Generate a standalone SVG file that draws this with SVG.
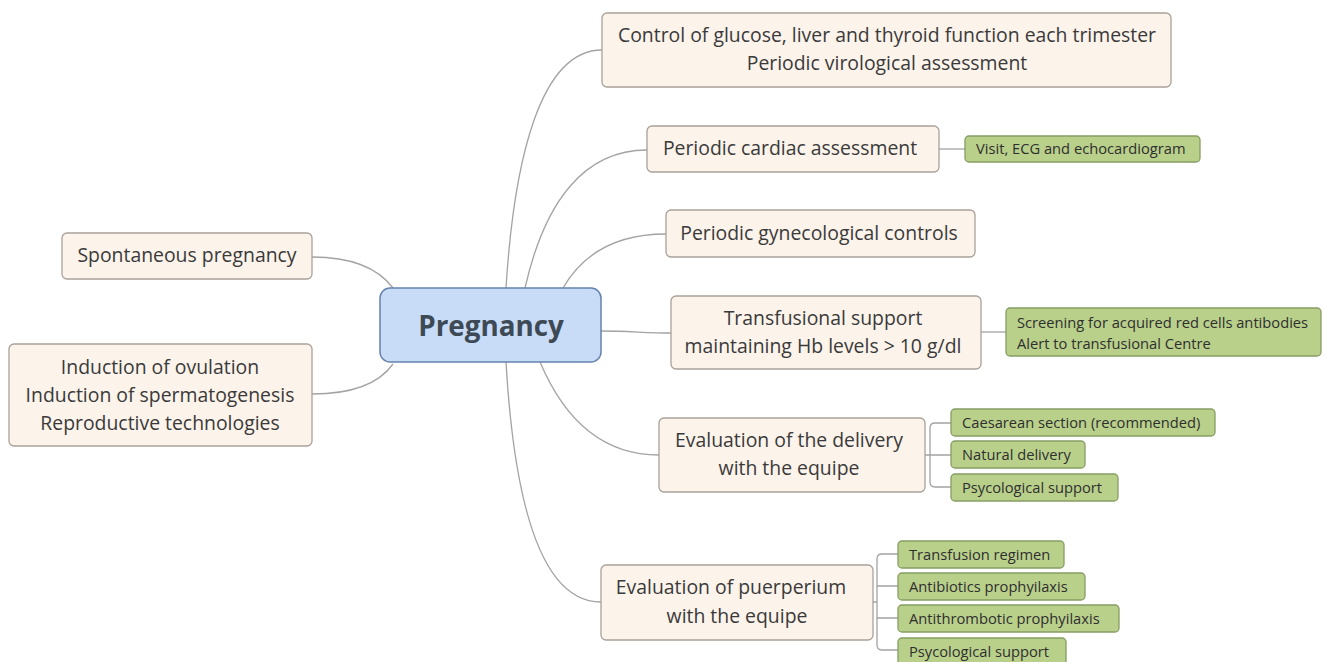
<svg xmlns="http://www.w3.org/2000/svg" width="1323" height="662" viewBox="0 0 1323 662">
<style>
.bg{fill:#ffffff}
.n rect{fill:#fcf3ea;stroke:#a9a19a;stroke-width:1.3}
.n text{font-family:"Open Sans","Noto Sans","DejaVu Sans",sans-serif;font-size:19.4px;fill:#3a3a3a;text-anchor:middle}
.g rect{fill:#b9d08b;stroke:#869d64;stroke-width:1.3}
.g text{font-family:"Open Sans","Noto Sans","DejaVu Sans",sans-serif;font-size:14.7px;fill:#2f2f2f}
.c rect{fill:#c8dcf7;stroke:#6683ad;stroke-width:1.5}
.c text{font-family:"Open Sans","Noto Sans","DejaVu Sans",sans-serif;font-size:27.8px;font-weight:bold;fill:#3d4a55;text-anchor:middle}
#connectors path{fill:none;stroke:#a3a3a3;stroke-width:1.3}
</style>
<rect class="bg" x="0" y="0" width="1323" height="662"/>
<g id="connectors">
<path d="M506,288 C514,160 540,50 602,50"/>
<path d="M525,288 C545,200 585,150 647,150"/>
<path d="M563,288 C585,250 620,234 666,234"/>
<path d="M601,331 C630,331 645,333 671,333"/>
<path d="M540,362 C568,428 610,455 659,455"/>
<path d="M506,362 C514,500 540,602 601,602"/>
<path d="M393,288 C378,268 350,257 312,257"/>
<path d="M393,364 C378,385 350,394 312,394"/>
<path d="M939,149 L965,149"/>
<path d="M981,332 L1006,332"/>
<path d="M925,455 L930,455 M951,423 L935,423 Q930,423 930,428 L930,482 Q930,487 935,487 L951,487 M930,455 L951,455"/>
<path d="M873,602 L877,602 M898,554 L882,554 Q877,554 877,559 L877,645 Q877,650 882,650 L898,650 M877,586 L898,586 M877,618 L898,618"/>
</g>
<g id="center" class="c">
<rect x="380" y="288" width="221" height="74" rx="10"/>
<text x="491" y="336">Pregnancy</text>
</g>
<g id="spontaneous" class="n">
<rect x="62" y="233" width="250" height="46" rx="5"/>
<text x="187" y="262">Spontaneous pregnancy</text>
</g>
<g id="induction" class="n">
<rect x="9" y="344" width="303" height="102" rx="5"/>
<text x="160" y="374">Induction of ovulation</text>
<text x="160" y="402">Induction of spermatogenesis</text>
<text x="160" y="430">Reproductive technologies</text>
</g>
<g id="control" class="n">
<rect x="602" y="13" width="569" height="74" rx="5"/>
<text x="887" y="42">Control of glucose, liver and thyroid function each trimester</text>
<text x="887" y="70">Periodic virological assessment</text>
</g>
<g id="cardiac" class="n">
<rect x="647" y="126" width="292" height="46" rx="5"/>
<text x="790" y="155">Periodic cardiac assessment</text>
</g>
<g id="gyn" class="n">
<rect x="666" y="210" width="309" height="47" rx="5"/>
<text x="819" y="240">Periodic gynecological controls</text>
</g>
<g id="transfusional" class="n">
<rect x="671" y="296" width="310" height="73" rx="5"/>
<text x="823" y="325">Transfusional support</text>
<text x="823" y="353">maintaining Hb levels &gt; 10 g/dl</text>
</g>
<g id="delivery" class="n">
<rect x="659" y="418" width="266" height="74" rx="5"/>
<text x="789" y="447">Evaluation of the delivery</text>
<text x="789" y="475">with the equipe</text>
</g>
<g id="puerperium" class="n">
<rect x="601" y="565" width="272" height="75" rx="5"/>
<text x="731" y="594">Evaluation of puerperium</text>
<text x="737" y="623">with the equipe</text>
</g>
<g id="visit" class="g">
<rect x="965" y="136" width="235" height="26" rx="4"/>
<text x="976" y="154">Visit, ECG and echocardiogram</text>
</g>
<g id="screening" class="g">
<rect x="1006" y="308" width="315" height="48" rx="4"/>
<text x="1017" y="328">Screening for acquired red cells antibodies</text>
<text x="1017" y="349">Alert to transfusional Centre</text>
</g>
<g id="caesarean" class="g">
<rect x="951" y="409" width="264" height="27" rx="4"/>
<text x="962" y="428">Caesarean section (recommended)</text>
</g>
<g id="natural" class="g">
<rect x="951" y="441" width="134" height="27" rx="4"/>
<text x="962" y="460">Natural delivery</text>
</g>
<g id="psy1" class="g">
<rect x="951" y="474" width="167" height="27" rx="4"/>
<text x="962" y="493">Psycological support</text>
</g>
<g id="transfusion-regimen" class="g">
<rect x="898" y="541" width="166" height="27" rx="4"/>
<text x="909" y="560">Transfusion regimen</text>
</g>
<g id="antibiotics" class="g">
<rect x="898" y="573" width="187" height="27" rx="4"/>
<text x="909" y="592">Antibiotics prophyilaxis</text>
</g>
<g id="antithrombotic" class="g">
<rect x="898" y="605" width="221" height="27" rx="4"/>
<text x="909" y="624">Antithrombotic prophyilaxis</text>
</g>
<g id="psy2" class="g">
<rect x="898" y="638" width="168" height="27" rx="4"/>
<text x="909" y="657">Psycological support</text>
</g>
</svg>
